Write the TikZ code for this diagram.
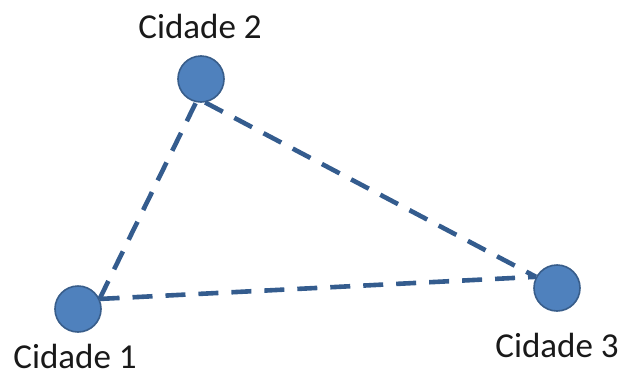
\documentclass[tikz,border=0pt]{standalone}
\usepackage{fontspec}
\setmainfont{Carlito}
\usetikzlibrary{positioning}
\definecolor{cityFill}{RGB}{79,129,189}
\definecolor{cityBrd}{RGB}{56,93,138}
\definecolor{roadClr}{RGB}{52,92,142}
\tikzset{
  every node/.style={font=\fontsize{35}{40}\selectfont},
  CITY/.style={circle, draw=cityBrd, line width=1.6pt, fill=cityFill, minimum size=46pt, inner sep=0pt},
  LBL/.style={anchor=base, text=black!90, inner sep=1pt},
  ROAD/.style={draw=roadClr, line width=4.6pt, dash pattern=on 20pt off 13pt},
}
\begin{document}
\begin{tikzpicture}[x=1pt, y=1pt, yscale=-1]
\useasboundingbox (0,0) rectangle (622,378);

%% cidades
\node[CITY] (C1) at (78,309) {};
\node[CITY] (C2) at (201,79) {};
\node[CITY] (C3) at (557,288) {};

\node[LBL] (L1) at (75,368) {Cidade 1};
\node[LBL] (L2) at (200,38) {Cidade 2};
\node[LBL] (L3) at (557,357) {Cidade 3};

%% caminhos
\draw[ROAD] (C1.25) -- (C2.258);
\draw[ROAD] (C2.280) -- (C3.152);
\draw[ROAD] (C1.25) -- (C3.152);

\end{tikzpicture}
\end{document}
